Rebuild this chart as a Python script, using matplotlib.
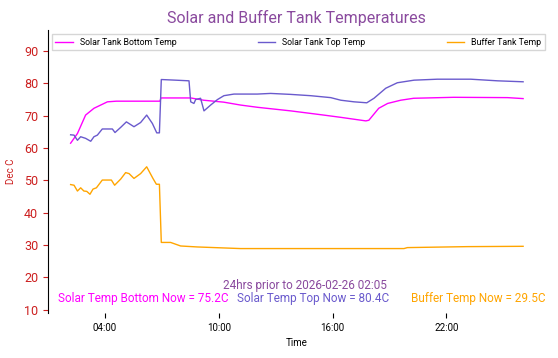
import datetime as dt
import matplotlib
matplotlib.use("Agg")
import matplotlib.pyplot as plt
import matplotlib.dates as mdates

plt.rcParams['font.family'] = ['Roboto', 'DejaVu Sans']

# dane (godzina zegarowa, >24 = nastepny dzien)
bottom_h = [2.19, 2.55, 2.98, 3.42, 4.13, 4.6, 6.90, 6.95, 8.52, 9.20, 10.26, 11.15,
            12.05, 13.79, 15.53, 16.43, 17.75, 17.91, 18.43, 18.90, 19.59, 20.27,
            22.38, 25.22, 26.04]
bottom_t = [61.5, 64.5, 70.2, 72.3, 74.3, 74.5, 74.5, 75.5, 75.5, 74.8, 74.2, 73.3,
            72.6, 71.5, 70.2, 69.5, 68.4, 68.6, 72.3, 73.8, 74.8, 75.4,
            75.7, 75.6, 75.3]

top_h = [2.19, 2.37, 2.55, 2.72, 2.98, 3.25, 3.42, 3.60, 3.86, 4.39, 4.53, 4.83,
         5.13, 5.53, 5.88, 6.20, 6.50, 6.73, 6.87, 6.97, 7.73, 8.43, 8.52, 8.69,
         8.78, 9.04, 9.22, 9.57, 9.93, 10.27, 10.80, 12.03, 12.73, 13.79, 14.84,
         15.90, 16.43, 17.13, 17.80, 18.18, 18.80, 19.41, 20.29, 21.52, 23.28,
         24.69, 26.04]
top_t = [64.1, 64.0, 62.4, 63.5, 63.0, 62.1, 63.5, 64.0, 65.9, 65.9, 64.8, 66.4,
         68.1, 66.6, 67.9, 70.2, 67.6, 64.7, 64.7, 81.2, 81.0, 80.8, 74.3, 73.8,
         75.0, 75.4, 71.5, 73.3, 75.0, 76.2, 76.7, 76.7, 76.9, 76.6, 76.2,
         75.6, 74.8, 74.3, 74.0, 75.4, 78.5, 80.2, 81.0, 81.3, 81.3,
         80.8, 80.5]

buffer_h = [2.19, 2.37, 2.55, 2.72, 2.89, 3.04, 3.21, 3.37, 3.55, 3.86, 4.34, 4.51,
            4.83, 5.09, 5.27, 5.53, 5.88, 6.20, 6.53, 6.71, 6.87, 6.97, 7.46, 7.99,
            8.87, 11.15, 19.76, 19.94, 23.10, 26.04]
buffer_t = [48.7, 48.5, 46.7, 47.7, 46.7, 46.6, 45.7, 47.3, 47.7, 50.1, 50.1, 48.5,
            50.4, 52.4, 52.1, 50.6, 52.1, 54.2, 50.6, 48.8, 48.8, 30.8, 30.8, 29.7,
            29.4, 28.9, 28.9, 29.2, 29.5, 29.6]

now_bottom = 75.2
now_top = 80.4
now_buffer = 29.5

day0 = dt.datetime(2026, 2, 25)
def to_time(hours):
    return [day0 + dt.timedelta(hours=h) for h in hours]

red = '#cc1f1f'
purple = '#8a4a9e'
blue = 'slateblue'

fig = plt.figure(figsize=(5.58, 3.58), dpi=100)
ax = fig.add_axes([0.086, 0.126, 0.892, 0.79])

ax.plot(to_time(bottom_h), bottom_t, color='magenta', lw=1, label='Solar Tank Bottom Temp')
ax.plot(to_time(top_h), top_t, color=blue, lw=1, label='Solar Tank Top Temp')
ax.plot(to_time(buffer_h), buffer_t, color='orange', lw=1, label='Buffer Tank Temp')

ax.set_ylim(9, 96.5)
ax.set_yticks(range(10, 91, 10))
ax.tick_params(axis='y', colors=red, labelsize=9)
ax.tick_params(axis='x', labelsize=7)
ax.xaxis.set_major_locator(mdates.HourLocator(byhour=[4, 10, 16, 22]))
ax.xaxis.set_major_formatter(mdates.DateFormatter('%H:%M'))

for s in ['top', 'right', 'bottom']:
    ax.spines[s].set_visible(False)

ax.set_title('Solar and Buffer Tank Temperatures', color=purple, fontsize=11.5, pad=5)
ax.set_ylabel('Dec C', color=red, fontsize=7, labelpad=6)
ax.set_xlabel('Time', fontsize=7, labelpad=4)

ax.legend(loc='upper left', ncol=3, mode='expand', fontsize=6.3, frameon=True,
          fancybox=False, bbox_to_anchor=(0.008, 0.0, 0.99, 0.985),
          borderaxespad=0.0, handlelength=2.0)

fig.text(0.547, 0.203, '24hrs prior to 2026-02-26 02:05', color=purple,
         fontsize=8.5, ha='center', va='center')
fig.text(0.104, 0.166, 'Solar Temp Bottom Now = %.1fC' % now_bottom, color='magenta',
         fontsize=8.5, ha='left', va='center')
fig.text(0.425, 0.166, 'Solar Temp Top Now = %.1fC' % now_top, color=blue,
         fontsize=8.5, ha='left', va='center')
fig.text(0.737, 0.166, 'Buffer Temp Now = %.1fC' % now_buffer, color='orange',
         fontsize=8.5, ha='left', va='center')

fig.savefig('out.png', dpi=100)
